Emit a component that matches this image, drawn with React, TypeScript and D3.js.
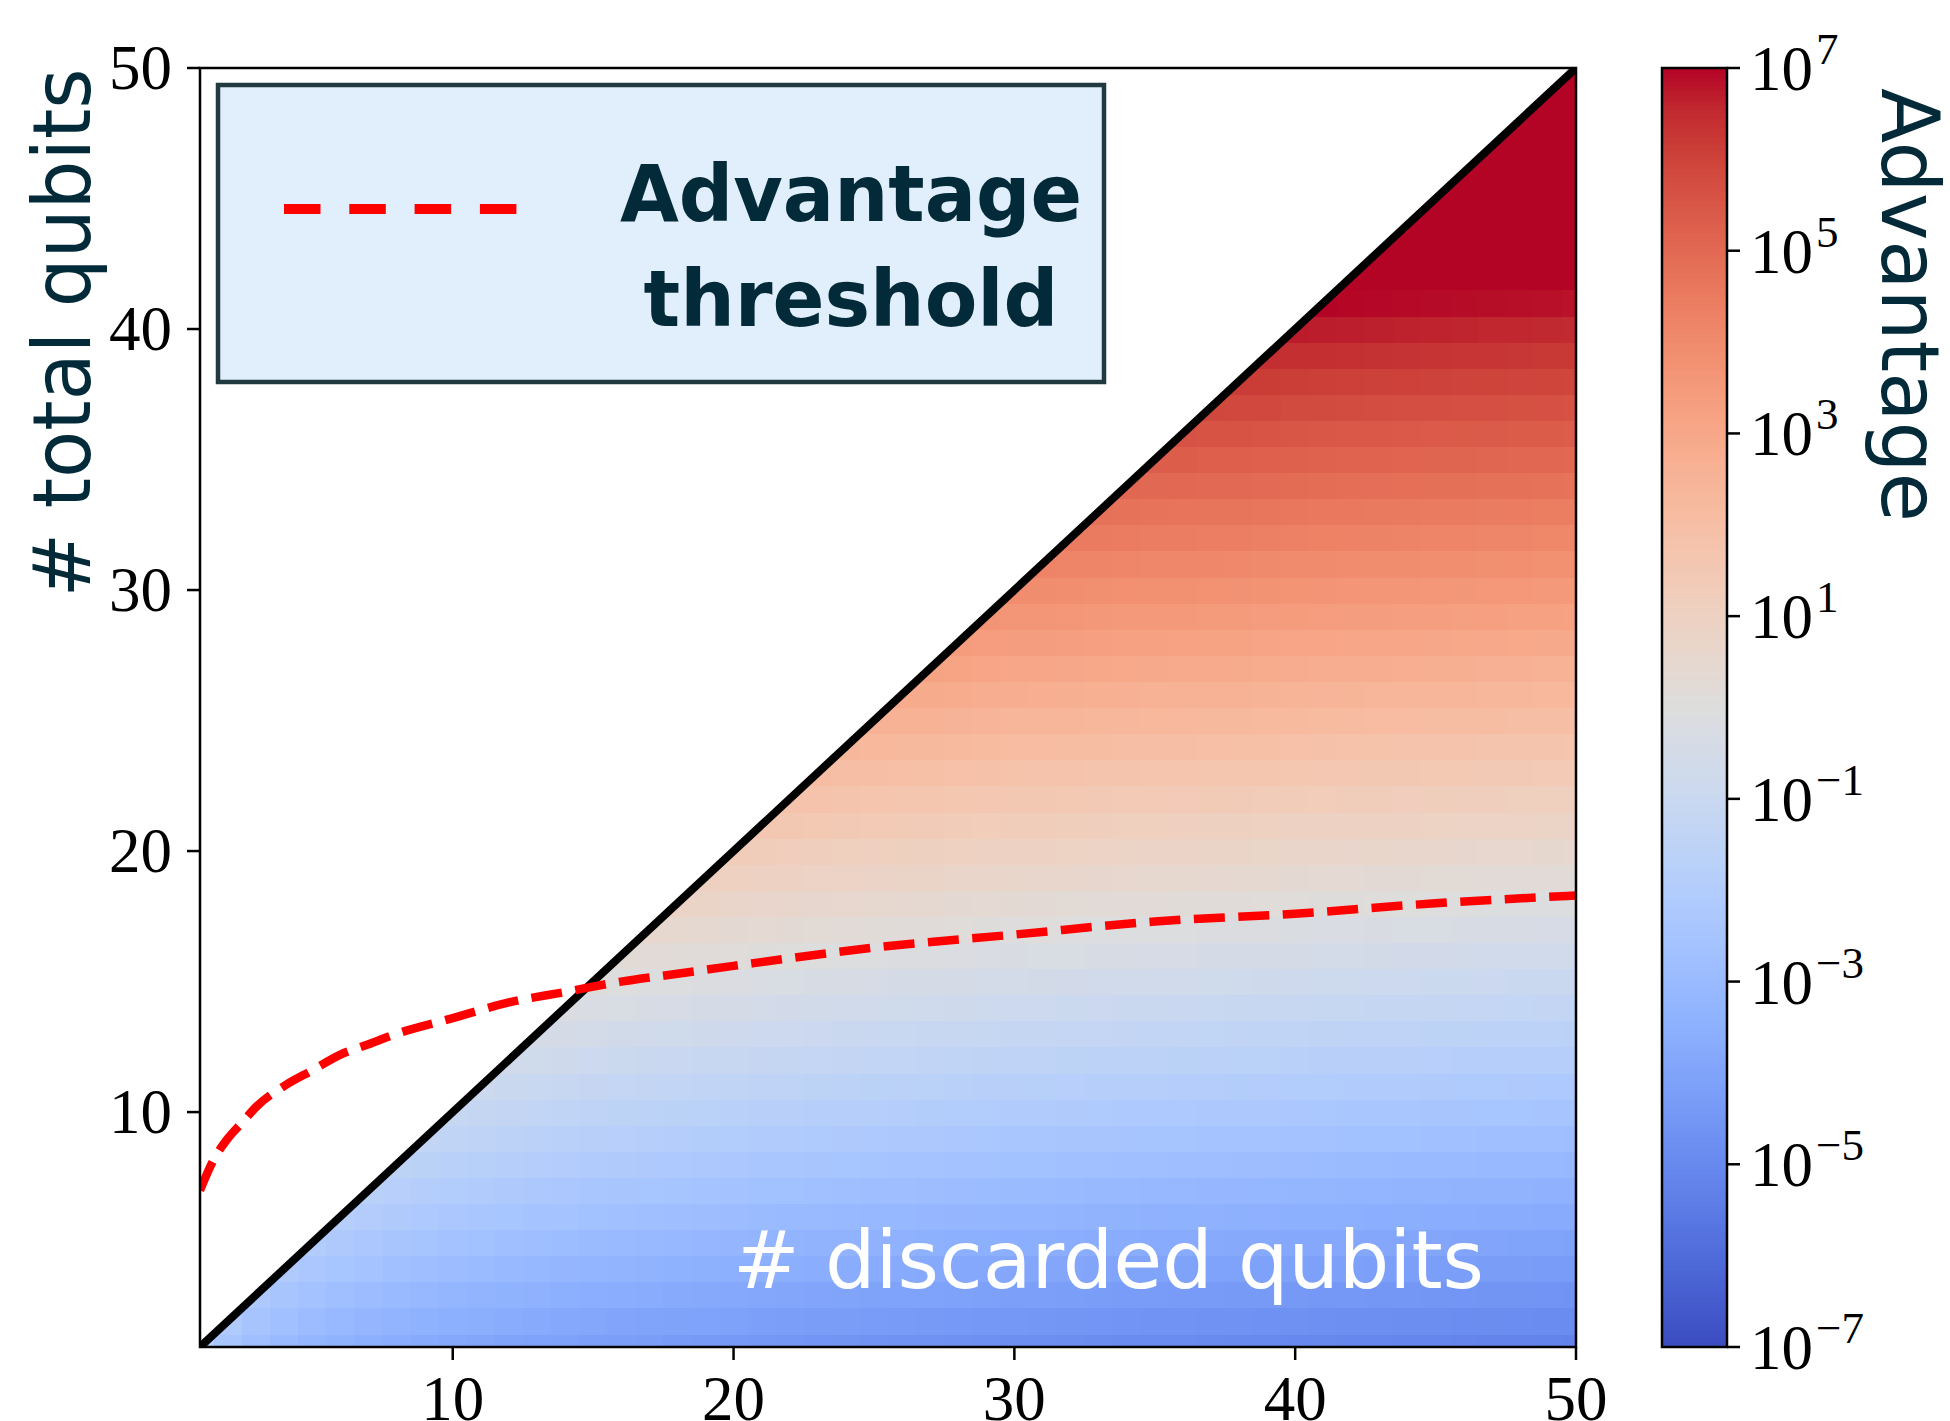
import * as d3 from 'd3'

// rows / columns of the heat map (both axes run over 1..50 qubits)
const qubits = d3.range(1, 51)

// log10(advantage) read along the right edge (50 on x), one entry per row y = 1..50
const rightEdgeLog10 = [
  -5.21, -4.91, -4.61, -4.3, -4.0, -3.7, -3.4, -3.1, -2.8, -2.5,
  -2.2, -1.9, -1.6, -1.29, -0.99, -0.69, -0.39, -0.09, 0.21, 0.51,
  0.81, 1.11, 1.41, 1.72, 2.02, 2.32, 2.62, 2.92, 3.22, 3.52,
  3.82, 4.12, 4.42, 4.73, 5.03, 5.33, 5.63, 5.93, 6.23, 6.53,
  6.83, 7.13, 7.4, 7.7, 8.0, 8.3, 8.6, 8.9, 9.2, 9.5,
]

// how many decades warmer each column x = 1..50 is than the right edge
const columnLift = [
  3.4, 2.8, 2.44, 2.19, 2.0, 1.84, 1.71, 1.59, 1.49, 1.4,
  1.32, 1.24, 1.17, 1.11, 1.05, 0.99, 0.94, 0.89, 0.84, 0.8,
  0.75, 0.71, 0.67, 0.64, 0.6, 0.57, 0.54, 0.5, 0.47, 0.44,
  0.42, 0.39, 0.36, 0.33, 0.31, 0.29, 0.26, 0.24, 0.22, 0.19,
  0.17, 0.15, 0.13, 0.11, 0.09, 0.07, 0.05, 0.04, 0.02, 0,
]

// red dashed advantage threshold
const thresholdX = [1, 1.5, 2, 2.5, 3, 4, 5, 6, 7, 8, 10, 12, 14, 16, 18, 20, 25, 30, 35, 40, 45, 50]
const thresholdY = [7.0, 8.2, 9.0, 9.6, 10.2, 11.0, 11.6, 12.2, 12.6, 13.0, 13.6, 14.2, 14.6, 15.0, 15.3, 15.6, 16.3, 16.8, 17.3, 17.6, 18.0, 18.3]

const xTicks = [10, 20, 30, 40, 50]
const yTicks = [10, 20, 30, 40, 50]
const cbarExponents = [7, 5, 3, 1, -1, -3, -5, -7]

// matplotlib "coolwarm" (Moreland) control points
const COOLWARM = [
  '#3b4cc0', '#445acc', '#4d68d7', '#5775e1', '#6282ea', '#6c8ef1', '#779af7', '#82a5fb',
  '#8db0fe', '#98b9ff', '#a3c2ff', '#aec9fd', '#b8d0f9', '#c2d5f4', '#ccd9ee', '#d5dbe6',
  '#dddddd', '#e5d8d1', '#ecd3c5', '#f1ccb9', '#f5c4ad', '#f7bba0', '#f7b194', '#f7a687',
  '#f49a7b', '#f18d6f', '#ec7f63', '#e57058', '#de604d', '#d55042', '#cb3e38', '#c0282f',
  '#b40426',
]

const INK = '#032a38'
const W = 1950
const H = 1421
const L = 200
const R = 1576
const T = 68
const B = 1347
const CB_L = 1662
const CB_R = 1727
const SERIF = '"Liberation Serif", "Times New Roman", serif'
const SANS = '"DejaVu Sans", sans-serif'

const App = () => {
  const x = d3.scaleLinear().domain([1, 50]).range([L, R])
  const y = d3.scaleLinear().domain([1, 50]).range([B, T])
  const cbar = d3.scaleLog().domain([1e-7, 1e7]).range([B, T])
  const cmap = d3.piecewise(d3.interpolateRgb, COOLWARM)
  const colorOf = (lg: number) => cmap(Math.max(0, Math.min(1, (lg + 7) / 14)))

  // cells below the diagonal (x >= y)
  const cells: any[] = []
  qubits.forEach((n, i) => {
    qubits.forEach((d, j) => {
      if (d < n) return
      cells.push({ d, n, lg: rightEdgeLog10[i] + columnLift[j] })
    })
  })

  const threshold = thresholdX.map((d, i) => [d, thresholdY[i]] as [number, number])
  const line = d3
    .line<[number, number]>()
    .x((p) => x(p[0]))
    .y((p) => y(p[1]))
    .curve(d3.curveMonotoneX)

  const strips = d3.range(0, 280)
  const stripLog = d3.scaleLinear().domain([0, 280]).range([-7, 7])

  const tri = `${x(1)},${y(1)} ${x(50)},${y(1)} ${x(50)},${y(50)}`

  return (
    <svg width={W} height={H} style={{ position: 'absolute', left: 0, top: 0, background: '#fff' }}>
      <defs>
        <clipPath id="tri">
          <polygon points={tri} />
        </clipPath>
        <clipPath id="plot">
          <rect x={L} y={T} width={R - L} height={B - T} />
        </clipPath>
      </defs>

      <g clipPath="url(#tri)" shapeRendering="crispEdges">
        {cells.map((c) => (
          <rect
            key={`${c.d}-${c.n}`}
            x={x(c.d - 0.5)}
            y={y(c.n + 0.5)}
            width={x(c.d + 0.5) - x(c.d - 0.5) + 0.6}
            height={y(c.n - 0.5) - y(c.n + 0.5) + 0.6}
            fill={colorOf(c.lg)}
          />
        ))}
      </g>

      <line x1={x(1)} y1={y(1)} x2={x(50)} y2={y(50)} stroke="#000" strokeWidth={8} clipPath="url(#plot)" />

      <path
        d={line(threshold) as string}
        fill="none"
        stroke="#ff0000"
        strokeWidth={8.5}
        strokeDasharray="31 13.5"
        clipPath="url(#plot)"
      />

      <rect x={L} y={T} width={R - L} height={B - T} fill="none" stroke="#000" strokeWidth={2.5} />

      {xTicks.map((t) => (
        <g key={`x${t}`}>
          <line x1={x(t)} x2={x(t)} y1={B} y2={B + 13} stroke="#000" strokeWidth={2.5} />
          <text x={x(t)} y={1420} textAnchor="middle" fontFamily={SERIF} fontSize={63} fill="#000">
            {t}
          </text>
        </g>
      ))}
      {yTicks.map((t) => (
        <g key={`y${t}`}>
          <line x1={L - 13} x2={L} y1={y(t)} y2={y(t)} stroke="#000" strokeWidth={2.5} />
          <text x={172} y={y(t) + 21} textAnchor="end" fontFamily={SERIF} fontSize={63} fill="#000">
            {t}
          </text>
        </g>
      ))}

      <text
        transform={`translate(90,333) rotate(-90)`}
        textAnchor="middle"
        fontFamily={SANS}
        fontSize={80}
        fill={INK}
        textLength={529}
        lengthAdjust="spacingAndGlyphs"
      >
        # total qubits
      </text>

      <text
        x={733}
        y={1288}
        fontFamily={SANS}
        fontSize={80}
        fill="#fff"
        textLength={751}
        lengthAdjust="spacingAndGlyphs"
      >
        # discarded qubits
      </text>

      {/* legend */}
      <rect x={218} y={85} width={886} height={297} fill="#e1eefc" stroke="#203a40" strokeWidth={4.5} />
      <line x1={284} x2={518} y1={209} y2={209} stroke="#ff0000" strokeWidth={10} strokeDasharray="36.5 28.8" />
      <g fontFamily={SANS} fontWeight="bold" fontSize={79} fill={INK} textAnchor="middle">
        <text x={851} y={221} textLength={462} lengthAdjust="spacingAndGlyphs">
          Advantage
        </text>
        <text x={851} y={326} textLength={415} lengthAdjust="spacingAndGlyphs">
          threshold
        </text>
      </g>

      {/* colorbar */}
      <g shapeRendering="crispEdges">
        {strips.map((s) => (
          <rect
            key={`s${s}`}
            x={CB_L}
            width={CB_R - CB_L}
            y={cbar(Math.pow(10, stripLog(s + 1)))}
            height={cbar(Math.pow(10, stripLog(s))) - cbar(Math.pow(10, stripLog(s + 1))) + 0.6}
            fill={colorOf(stripLog(s + 0.5))}
          />
        ))}
      </g>
      <rect x={CB_L} y={T} width={CB_R - CB_L} height={B - T} fill="none" stroke="#000" strokeWidth={2.5} />
      {cbarExponents.map((e) => {
        const ty = cbar(Math.pow(10, e))
        return (
          <g key={`c${e}`}>
            <line x1={CB_R} x2={CB_R + 13} y1={ty} y2={ty} stroke="#000" strokeWidth={2.5} />
            <text x={1750} y={ty + 22} fontFamily={SERIF} fontSize={63} fill="#000">
              10
              <tspan dx={3} dy={-26} fontSize={45}>
                {e < 0 ? `\u2212${-e}` : `${e}`}
              </tspan>
            </text>
          </g>
        )
      })}
      <text
        transform={`translate(1882,305) rotate(90)`}
        textAnchor="middle"
        fontFamily={SANS}
        fontSize={80}
        fill={INK}
        textLength={434}
        lengthAdjust="spacingAndGlyphs"
      >
        Advantage
      </text>
    </svg>
  )
}

export default App
